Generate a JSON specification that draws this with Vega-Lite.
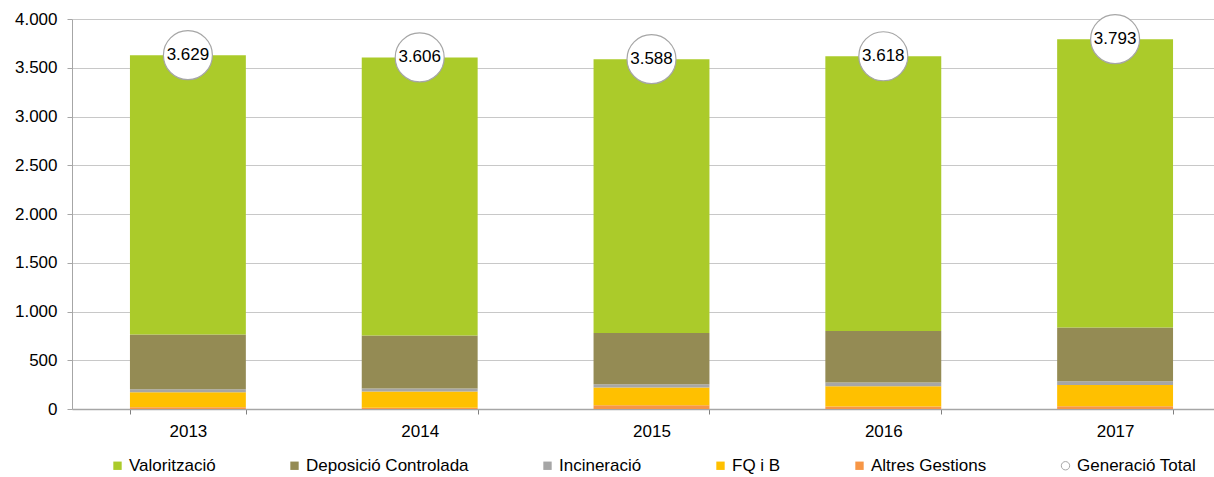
{
  "$schema": "https://vega.github.io/schema/vega-lite/v6.json",
  "autosize": {"type": "none"},
  "width": 1142,
  "height": 390,
  "padding": {"left": 72, "top": 19, "right": 0, "bottom": 68},
  "background": "white",
  "config": {
    "locale": {"number": {"decimal": ",", "thousands": ".", "grouping": [3], "currency": ["", " €"]}},
    "font": "Liberation Sans",
    "view": {"stroke": null},
    "axis": {"labelFont": "Liberation Sans", "labelFontSize": 17, "labelColor": "#000000"},
    "legend": {
      "orient": "none",
      "legendX": 37,
      "legendY": 438,
      "direction": "horizontal",
      "title": null,
      "labelFont": "Liberation Sans",
      "labelFontSize": 17,
      "labelColor": "#000000",
      "labelLimit": 0,
      "columnPadding": 70,
      "labelOffset": 3,
      "symbolSize": 70,
      "padding": 0,
      "symbolStrokeColor": "#a6a6a6",
      "symbolStrokeWidth": 0
    }
  },
  "datasets": {
    "parts": [
      {"year": "2013", "series": "Altres Gestions", "k": 1, "value": 17},
      {"year": "2013", "series": "FQ i B", "k": 2, "value": 154},
      {"year": "2013", "series": "Incineració", "k": 3, "value": 31},
      {"year": "2013", "series": "Deposició Controlada", "k": 4, "value": 562},
      {"year": "2013", "series": "Valorització", "k": 5, "value": 2865},
      {"year": "2014", "series": "Altres Gestions", "k": 1, "value": 14},
      {"year": "2014", "series": "FQ i B", "k": 2, "value": 165},
      {"year": "2014", "series": "Incineració", "k": 3, "value": 30},
      {"year": "2014", "series": "Deposició Controlada", "k": 4, "value": 545},
      {"year": "2014", "series": "Valorització", "k": 5, "value": 2852},
      {"year": "2015", "series": "Altres Gestions", "k": 1, "value": 38},
      {"year": "2015", "series": "FQ i B", "k": 2, "value": 182},
      {"year": "2015", "series": "Incineració", "k": 3, "value": 33},
      {"year": "2015", "series": "Deposició Controlada", "k": 4, "value": 527},
      {"year": "2015", "series": "Valorització", "k": 5, "value": 2808},
      {"year": "2016", "series": "Altres Gestions", "k": 1, "value": 25},
      {"year": "2016", "series": "FQ i B", "k": 2, "value": 208},
      {"year": "2016", "series": "Incineració", "k": 3, "value": 38},
      {"year": "2016", "series": "Deposició Controlada", "k": 4, "value": 530},
      {"year": "2016", "series": "Valorització", "k": 5, "value": 2817},
      {"year": "2017", "series": "Altres Gestions", "k": 1, "value": 28},
      {"year": "2017", "series": "FQ i B", "k": 2, "value": 218},
      {"year": "2017", "series": "Incineració", "k": 3, "value": 38},
      {"year": "2017", "series": "Deposició Controlada", "k": 4, "value": 552},
      {"year": "2017", "series": "Valorització", "k": 5, "value": 2957}
    ],
    "totals": [
      {"year": "2013", "series": "Generació Total", "total": 3629},
      {"year": "2014", "series": "Generació Total", "total": 3606},
      {"year": "2015", "series": "Generació Total", "total": 3588},
      {"year": "2016", "series": "Generació Total", "total": 3618},
      {"year": "2017", "series": "Generació Total", "total": 3793}
    ]
  },
  "encoding": {
    "x": {
      "field": "year",
      "type": "nominal",
      "sort": null,
      "title": null,
      "scale": {"range": [0, 1159], "paddingInner": 0.5, "paddingOuter": 0.25},
      "axis": {
        "labelAngle": 0,
        "domainColor": "#a6a6a6",
        "domainWidth": 1.5,
        "tickColor": "#808080",
        "tickSize": 5,
        "tickBand": "extent",
        "labelPadding": 9,
        "grid": false
      }
    }
  },
  "layer": [
    {
      "data": {"name": "parts"},
      "mark": {"type": "bar"},
      "encoding": {
        "y": {
          "field": "value",
          "type": "quantitative",
          "stack": "zero",
          "title": null,
          "scale": {"domain": [0, 4000], "nice": false},
          "axis": {
            "values": [0, 500, 1000, 1500, 2000, 2500, 3000, 3500, 4000],
            "format": ",d",
            "domainColor": "#a6a6a6",
            "tickColor": "#a6a6a6",
            "tickSize": 5,
            "labelPadding": 10,
            "gridColor": "#c8c8c8",
            "gridWidth": 1.2
          }
        },
        "order": {"field": "k", "type": "quantitative"},
        "color": {
          "field": "series",
          "type": "nominal",
          "scale": {
            "domain": ["Valorització", "Deposició Controlada", "Incineració", "FQ i B", "Altres Gestions", "Generació Total"],
            "range": ["#abcb2a", "#948b54", "#a6a6a6", "#ffc000", "#f79646", "#ffffff"]
          },
          "legend": {
            "title": null,
            "encode": {
              "symbols": {
                "update": {
                  "stroke": {"value": "#a6a6a6"},
                  "strokeWidth": {"signal": "datum.value === 'Generació Total' ? 1 : 0"}
                }
              }
            }
          }
        }
      }
    },
    {
      "data": {"name": "totals"},
      "mark": {"type": "point", "filled": true, "size": 2400, "stroke": "#a6a6a6", "strokeWidth": 1.2, "opacity": 1},
      "encoding": {
        "y": {"field": "total", "type": "quantitative"},
        "color": {
          "field": "series",
          "type": "nominal",
          "legend": {
            "title": null,
            "encode": {
              "symbols": {
                "update": {
                  "stroke": {"value": "#a6a6a6"},
                  "strokeWidth": {"signal": "datum.value === 'Generació Total' ? 1 : 0"}
                }
              }
            }
          }
        },
        "shape": {
          "field": "series",
          "type": "nominal",
          "scale": {
            "domain": ["Valorització", "Deposició Controlada", "Incineració", "FQ i B", "Altres Gestions", "Generació Total"],
            "range": ["square", "square", "square", "square", "square", "circle"]
          },
          "legend": {
            "title": null,
            "encode": {
              "symbols": {
                "update": {
                  "stroke": {"value": "#a6a6a6"},
                  "strokeWidth": {"signal": "datum.value === 'Generació Total' ? 1 : 0"}
                }
              }
            }
          }
        }
      }
    },
    {
      "data": {"name": "totals"},
      "mark": {"type": "text", "fontSize": 17, "font": "Liberation Sans", "color": "#000000", "baseline": "middle", "align": "center"},
      "encoding": {
        "y": {"field": "total", "type": "quantitative"},
        "text": {"field": "total", "type": "quantitative", "format": ",d"}
      }
    }
  ]
}
